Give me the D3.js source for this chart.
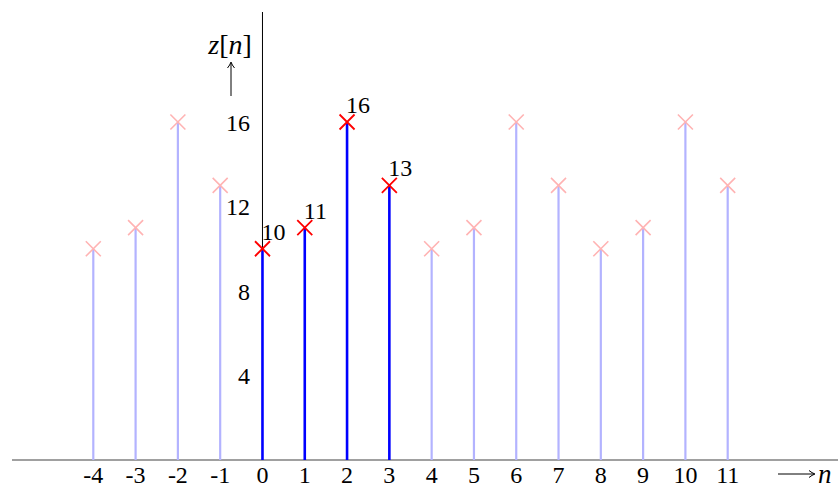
<!DOCTYPE html>
<html>
<head>
<meta charset="utf-8">
<script src="https://cdn.jsdelivr.net/npm/d3@7"></script>
<style>
  body { margin: 0; background: #fff; }
</style>
</head>
<body>
<div id="chart"></div>
<script>
// sample index and value of z[n]
var nVals = [-4, -3, -2, -1, 0, 1, 2, 3, 4, 5, 6, 7, 8, 9, 10, 11];
var zVals = [10, 11, 16, 13, 10, 11, 16, 13, 10, 11, 16, 13, 10, 11, 16, 13];
// the one period that is drawn strong
var mainN = [0, 1, 2, 3];
var yTicks = [4, 8, 12, 16];

var svgWidth = 838;
var svgHeight = 491;

var svg = d3.select("#chart")
    .append("svg")
    .attr("width", svgWidth)
    .attr("height", svgHeight)
    .style("font-family", "'Liberation Serif', 'DejaVu Serif', serif")
    .style("font-size", "24px");

var xScale = d3.scaleLinear()
    .domain([-4, 11])
    .range([93.3, 727.7]);

var yScale = d3.scaleLinear()
    .domain([0, 16])
    .range([460, 122]);

var data = nVals.map((n, i) => ({n: n, z: zVals[i], main: mainN.indexOf(n) >= 0}));

// x axis line
svg.append("line")
    .attr("x1", 12).attr("x2", 838)
    .attr("y1", yScale(0)).attr("y2", yScale(0))
    .attr("stroke", "#808080")
    .attr("stroke-width", 1.6);

// y axis line
svg.append("line")
    .attr("x1", xScale(0)).attr("x2", xScale(0))
    .attr("y1", 12).attr("y2", yScale(0))
    .attr("stroke", "#000")
    .attr("stroke-width", 1);

// stems
svg.selectAll(".stem")
    .data(data)
    .enter()
    .append("line")
    .attr("class", "stem")
    .attr("x1", d => xScale(d.n)).attr("x2", d => xScale(d.n))
    .attr("y1", yScale(0)).attr("y2", d => yScale(d.z))
    .attr("stroke", d => d.main ? "#0000ff" : "#b3b3ff")
    .attr("stroke-width", d => d.main ? 2.6 : 2.2);

// cross markers
var s = 7.5;
svg.selectAll(".mark")
    .data(data)
    .enter()
    .append("path")
    .attr("class", "mark")
    .attr("d", d => {
        var cx = xScale(d.n), cy = yScale(d.z);
        return `M${cx - s},${cy - s}L${cx + s},${cy + s}M${cx - s},${cy + s}L${cx + s},${cy - s}`;
    })
    .attr("fill", "none")
    .attr("stroke", d => d.main ? "#ff0000" : "#ffb3b3")
    .attr("stroke-width", d => d.main ? 1.8 : 1.6);

// value labels on the strong period
svg.selectAll(".vlab")
    .data(data.filter(d => d.main))
    .enter()
    .append("text")
    .attr("class", "vlab")
    .attr("x", d => xScale(d.n) - 1)
    .attr("y", d => yScale(d.z) - 9)
    .text(d => d.z);

// x tick labels
svg.selectAll(".xlab")
    .data(nVals)
    .enter()
    .append("text")
    .attr("class", "xlab")
    .attr("x", d => xScale(d))
    .attr("y", 483)
    .attr("text-anchor", "middle")
    .text(d => d);

// y tick labels
svg.selectAll(".ylab")
    .data(yTicks)
    .enter()
    .append("text")
    .attr("class", "ylab")
    .attr("x", 250)
    .attr("y", d => yScale(d) + 8.5)
    .attr("text-anchor", "end")
    .text(d => d);

// y label z[n] with arrow
var zl = svg.append("text")
    .attr("x", 230)
    .attr("y", 54)
    .attr("text-anchor", "middle")
    .style("font-size", "28px");
zl.append("tspan").attr("font-style", "italic").text("z");
zl.append("tspan").text("[");
zl.append("tspan").attr("font-style", "italic").text("n");
zl.append("tspan").text("]");

svg.append("line")
    .attr("x1", 231).attr("x2", 231)
    .attr("y1", 96).attr("y2", 63)
    .attr("stroke", "#000").attr("stroke-width", 1);
svg.append("path")
    .attr("d", "M227.5,68 Q230,65 231,62 Q232,65 234.5,68")
    .attr("fill", "none").attr("stroke", "#000").attr("stroke-width", 1);

// x label arrow n
svg.append("line")
    .attr("x1", 778).attr("x2", 814)
    .attr("y1", 474).attr("y2", 474)
    .attr("stroke", "#000").attr("stroke-width", 1);
svg.append("path")
    .attr("d", "M809,470.5 Q812,473 815,474 Q812,475 809,477.5")
    .attr("fill", "none").attr("stroke", "#000").attr("stroke-width", 1);
svg.append("text")
    .attr("x", 818)
    .attr("y", 483)
    .attr("font-style", "italic")
    .style("font-size", "27px")
    .text("n");
</script>
</body>
</html>
